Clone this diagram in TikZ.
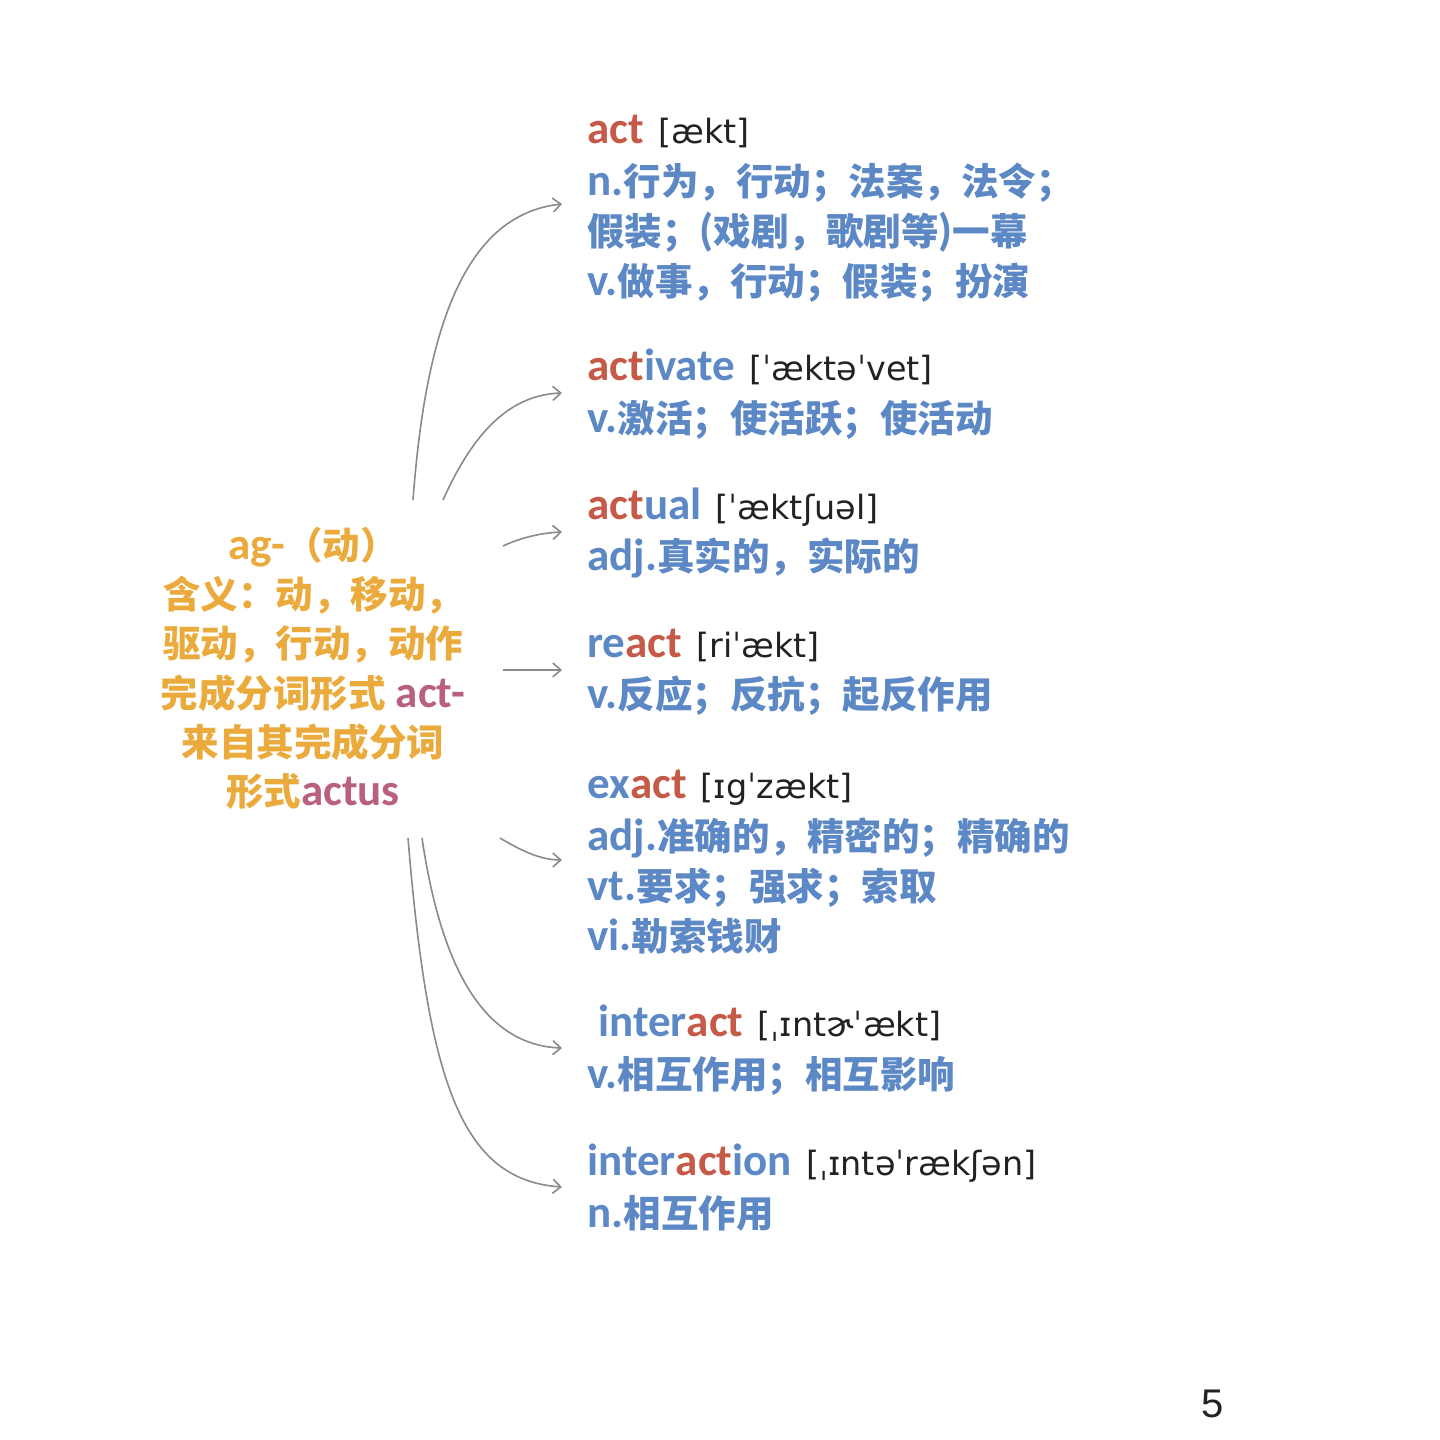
\documentclass[tikz,border=0pt]{standalone}
\usepackage{fontspec}
\setmainfont{Carlito}
\newfontfamily\cjkfont{Noto Sans CJK SC}
\newfontfamily\ipafont{DejaVu Sans}
\newfontfamily\numfont{Liberation Sans}
\usetikzlibrary{arrows.meta}
\definecolor{wblue}{HTML}{5C88C5}
\definecolor{wred}{HTML}{C65A48}
\definecolor{worange}{HTML}{EBAA3C}
\definecolor{wpink}{HTML}{B8607E}
\definecolor{wgray}{HTML}{8A8A8A}
\definecolor{wink}{HTML}{222222}
\newcommand\zh[1]{{\cjkfont\bfseries\fontsize{18.75}{25}\selectfont #1}}
\newcommand\ipa[1]{\hspace{2pt}{\ipafont\mdseries\fontsize{16.7}{20}\selectfont\color{wink}#1}}
\newcommand\hl[1]{{\color{wred}#1}}
\begin{document}
\begin{tikzpicture}[x=0.5pt,y=-0.5pt,
  wline/.style={anchor=base west, inner sep=0pt, text=wblue, font=\fontsize{22.5}{25}\selectfont\bfseries},
  rootline/.style={anchor=base, inner sep=0pt, text=worange, font=\fontsize{22.5}{25}\selectfont\bfseries},
  conn/.style={draw=wgray, line width=0.8pt, -{Straight Barb[length=4pt,width=7pt]}}]
\fill[white] (0,0) rectangle (1440,1440);
\useasboundingbox (0,0) rectangle (1440,1440);

% root
\node[rootline] (root1) at (313,559) {ag-\zh{（动）}};
\node[rootline] (root2) at (313,608) {\zh{含义：动，移动，}};
\node[rootline] (root3) at (313,657) {\zh{驱动，行动，动作}};
\node[rootline] (root4) at (313,707) {\zh{完成分词形式} {\color{wpink}act-}};
\node[rootline] (root5) at (313,756) {\zh{来自其完成分词}};
\node[rootline] (root6) at (313,805) {\zh{形式}{\color{wpink}actus}};

% act
\node[wline] (act0) at (587,143) {\hl{act} \ipa{[ækt]}};
\node[wline] (act1) at (587,195) {n.\zh{行为，行动；法案，法令；}};
\node[wline] (act2) at (587,245) {\zh{假装；}(\zh{戏剧，歌剧等})\zh{一幕}};
\node[wline] (act3) at (587,295) {v.\zh{做事，行动；假装；扮演}};
% activate
\node[wline] (acv0) at (587,380) {\hl{act}ivate \ipa{[ˈæktəˈvet]}};
\node[wline] (acv1) at (587,432) {v.\zh{激活；使活跃；使活动}};
% actual
\node[wline] (acl0) at (587,519) {\hl{act}ual \ipa{[ˈæktʃuəl]}};
\node[wline] (acl1) at (587,570) {adj.\zh{真实的，实际的}};
% react
\node[wline] (rea0) at (587,657) {re\hl{act} \ipa{[riˈækt]}};
\node[wline] (rea1) at (587,708) {v.\zh{反应；反抗；起反作用}};
% exact
\node[wline] (exa0) at (587,798) {ex\hl{act} \ipa{[ɪgˈzækt]}};
\node[wline] (exa1) at (587,850) {adj.\zh{准确的，精密的；精确的}};
\node[wline] (exa2) at (587,900) {vt.\zh{要求；强求；索取}};
\node[wline] (exa3) at (587,950) {vi.\zh{勒索钱财}};
% interact
\node[wline] (int0) at (598,1036) {inter\hl{act} \ipa{[ˌɪntɚˈækt]}};
\node[wline] (int1) at (587,1088) {v.\zh{相互作用；相互影响}};
% interaction
\node[wline] (itn0) at (587,1175) {inter\hl{act}ion \ipa{[ˌɪntəˈrækʃən]}};
\node[wline] (itn1) at (587,1227) {n.\zh{相互作用}};

% page number
\node[inner sep=0pt, text=wink, font=\numfont\fontsize{20}{20}\selectfont] (page) at (1213,1404) {5};

% connector end points
\coordinate (s1) at (413,500); \coordinate (e1) at (562,204);
\coordinate (s2) at (443,500); \coordinate (e2) at (562,393);
\coordinate (s3) at (503,546); \coordinate (e3) at (562,532);
\coordinate (s4) at (503,670); \coordinate (e4) at (562,670);
\coordinate (s5) at (500,838); \coordinate (e5) at (562,860);
\coordinate (s6) at (422,838); \coordinate (e6) at (562,1048);
\coordinate (s7) at (408,838); \coordinate (e7) at (562,1187);

\draw[conn] (s1) .. controls (425,340) and (460,215) .. (e1);
\draw[conn] (s2) .. controls (470,440) and (505,395) .. (e2);
\draw[conn] (s3) .. controls (520,538) and (540,533) .. (e3);
\draw[conn] (s4) -- (e4);
\draw[conn] (s5) .. controls (520,850) and (540,860) .. (e5);
\draw[conn] (s6) .. controls (440,960) and (480,1045) .. (e6);
\draw[conn] (s7) .. controls (428,1080) and (460,1180) .. (e7);
\end{tikzpicture}
\end{document}
